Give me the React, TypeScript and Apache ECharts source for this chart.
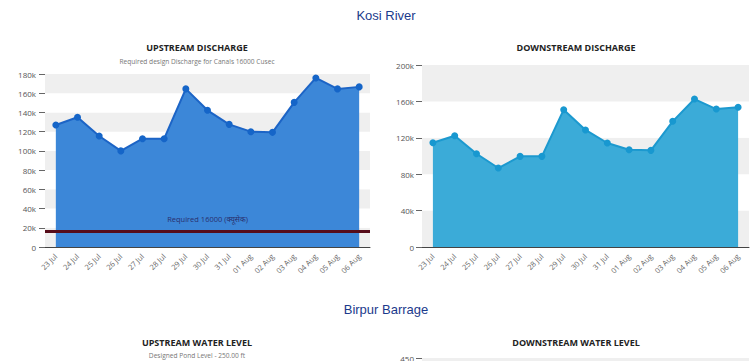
import React, { useEffect, useRef } from "react";
import * as echarts from "echarts";

const dates = ["23 Jul", "24 Jul", "25 Jul", "26 Jul", "27 Jul", "28 Jul", "29 Jul", "30 Jul", "31 Jul", "01 Aug", "02 Aug", "03 Aug", "04 Aug", "05 Aug", "06 Aug"];
const upstreamDischarge = [127000, 135000, 115500, 100000, 112700, 112700, 164500, 142200, 127600, 120000, 119300, 150500, 175900, 164500, 166600];
const downstreamDischarge = [114600, 122300, 102500, 86800, 99600, 99600, 150900, 128600, 114300, 106900, 106200, 138100, 162600, 151600, 153500];
const requiredDischarge = 16000;
const upstreamTicks = { min: 0, max: 180000, interval: 20000 };
const downstreamTicks = { min: 0, max: 200000, interval: 40000 };
const waterLevelTicks = { min: 0, max: 450, interval: 50 };

const FONT = "'Open Sans', 'Noto Sans', sans-serif";

function kFmt(v: number) {
  return v === 0 ? "0" : v / 1000 + "k";
}

export default function App() {
  const ref = useRef<HTMLDivElement>(null);
  useEffect(() => {
    document.body.style.margin = "0";
    if (!ref.current) return;
    const chart = echarts.init(ref.current, null, { renderer: "svg" });
    const splitArea = { show: true, areaStyle: { color: ["#efefef", "#ffffff"] } };
    const yAxisBase = {
      type: "value" as const,
      axisLine: { show: false },
      axisTick: { show: true, length: 6, lineStyle: { color: "#666" } },
      splitLine: { show: false },
      splitArea,
      axisLabel: { fontSize: 8, color: "#555", fontFamily: FONT, margin: 9, formatter: kFmt },
    };
    const xAxisBase = {
      type: "category" as const,
      data: dates,
      boundaryGap: true,
      axisLine: { lineStyle: { color: "#444", width: 1 } },
      axisTick: { show: false },
      axisLabel: { rotate: 45, fontSize: 7.5, color: "#666", fontFamily: FONT, margin: 8, interval: 0 },
    };
    const titleText = (text: string, x: number, y: number, size: number, color: string, weight: any, family: string) => ({
      type: "text",
      x,
      y,
      style: { text, fontSize: size, fill: color, fontWeight: weight, fontFamily: family, align: "center", verticalAlign: "middle" },
    });
    chart.setOption({
      animation: false,
      grid: [
        { left: 45, width: 325, top: 74, height: 173 },
        { left: 422, width: 327, top: 65, height: 182 },
        { left: 422, width: 327, top: 358, height: 180 },
      ],
      xAxis: [
        { ...xAxisBase, gridIndex: 0 },
        { ...xAxisBase, gridIndex: 1 },
        { ...xAxisBase, gridIndex: 2, axisLabel: { show: false } },
      ],
      yAxis: [
        { ...yAxisBase, gridIndex: 0, ...upstreamTicks },
        { ...yAxisBase, gridIndex: 1, ...downstreamTicks, axisLabel: { ...yAxisBase.axisLabel, margin: 8 } },
        {
          ...yAxisBase,
          gridIndex: 2,
          ...waterLevelTicks,
          axisLabel: {
            ...yAxisBase.axisLabel,
            margin: 8,
            hideOverlap: false,
            formatter: (v: number) => (v === waterLevelTicks.max ? String(v) : ""),
          },
        },
      ],
      series: [
        {
          type: "line",
          xAxisIndex: 0,
          yAxisIndex: 0,
          data: upstreamDischarge,
          symbol: "circle",
          symbolSize: 7,
          lineStyle: { color: "#1c64c6", width: 2 },
          itemStyle: { color: "#1565c8" },
          areaStyle: { color: "#3c87d8", opacity: 1 },
          markLine: {
            silent: true,
            symbol: "none",
            data: [{ yAxis: requiredDischarge }],
            lineStyle: { color: "#560c1a", width: 3, type: "solid" },
            label: {
              position: "insideMiddleTop",
              distance: 9,
              formatter: "Required 16000 (क्यूसेक)",
              fontSize: 7.5,
              color: "#2a2f6e",
              fontFamily: FONT,
            },
          },
        },
        {
          type: "line",
          xAxisIndex: 1,
          yAxisIndex: 1,
          data: downstreamDischarge,
          symbol: "circle",
          symbolSize: 7,
          lineStyle: { color: "#1c99cf", width: 2 },
          itemStyle: { color: "#1898d0" },
          areaStyle: { color: "#3babd8", opacity: 1 },
        },
      ],
      graphic: [
        titleText("Kosi River", 386, 15, 13, "#1b3a8c", "normal", "'Liberation Sans', Arial, sans-serif"),
        titleText("UPSTREAM DISCHARGE", 197, 47, 9, "#222", 700, FONT),
        titleText("Required design Discharge for Canals 16000 Cusec", 197, 61, 6.6, "#777", "normal", FONT),
        titleText("DOWNSTREAM DISCHARGE", 576, 47, 9, "#222", 700, FONT),
        titleText("Birpur Barrage", 386, 309, 13, "#1b3a8c", "normal", "'Liberation Sans', Arial, sans-serif"),
        titleText("UPSTREAM WATER LEVEL", 197, 342, 9, "#222", 700, FONT),
        titleText("Designed Pond Level - 250.00 ft", 197, 355, 6.6, "#777", "normal", FONT),
        titleText("DOWNSTREAM WATER LEVEL", 576, 342, 9, "#222", 700, FONT),
      ],
    });
    return () => chart.dispose();
  }, []);
  return <div ref={ref} style={{ width: 750, height: 361 }} />;
}
